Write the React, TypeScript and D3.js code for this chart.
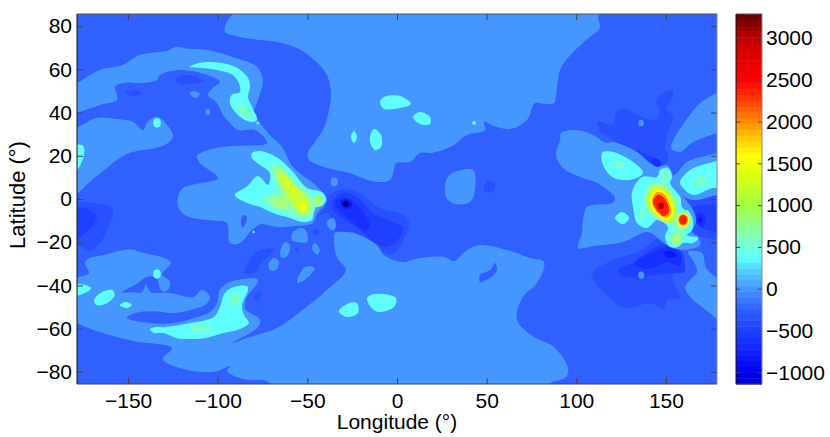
import React, { useEffect, useRef } from 'react';
import * as d3 from 'd3';

type Ring = [number, number][];
type Spot = [number, number, number];

const lonTicks = [-150, -100, -50, 0, 50, 100, 150];
const latTicks = [-80, -60, -40, -20, 0, 20, 40, 60, 80];
const barTicks = [-1000, -500, 0, 500, 1000, 1500, 2000, 2500, 3000];

// colorbar stops
const barValues = [-1140, -1000, -700, -500, -250, 0, 200, 370, 600, 1000, 1350, 1600, 1800, 2000, 2300, 2500, 2900, 3000, 3286];
const barColors = ['#0000c8', '#0000f0', '#1428ff', '#1e40ff', '#3060ff', '#4696ff', '#50c8ff', '#5fffff', '#80ffc0', '#a0ff40', '#d8ff10', '#ffff00', '#ffc800', '#ff8c00', '#ff3000', '#ff0000', '#d00000', '#c00000', '#600000'];

// contour regions, [lon, lat], one list per level
const trough1: Ring[] = [
  [[-44.6,-8.3],[-40.2,-4.2],[-37.4,1.9],[-30.1,4.6],[-22.3,3.2],[-9.5,-4.2],[3.3,-7.4],[6.7,-10.6],[4.5,-17.6],[0.6,-23.6],[-3.9,-25.5],[-10.6,-23.6],[-15.1,-20.4],[-24.6,-16.7],[-31.8,-15.3],[-34.6,-14.4],[-38.5,-6.5]],
  [[-182.5,-2.3],[-171.3,-1.9],[-159,-4.2],[-161.3,-13.9],[-167.4,-21.8],[-172.4,-24.1],[-178.6,-20.8],[-182.5,-19]],
  [[112.2,35.7],[120.5,34.3],[122.2,39.8],[127.2,42.1],[133.4,38.9],[138.4,37.5],[142.8,36.6],[146.8,39.8],[144.5,44.9],[148.4,49.1],[154,50],[152.9,45.8],[150.1,42.1],[154,38],[151.2,30.6],[149.5,24.5],[151.2,18.1],[146.8,13.4],[135.6,18.1],[120.5,27.3],[113.3,31.5]],
  [[162.4,0.5],[183,1.4],[183,-17.6],[169.1,-17.1],[163.5,-13.4]],
  [[108.8,-34.3],[120.5,-28.2],[134.5,-24.5],[148.4,-17.1],[153.5,-22.7],[160.2,-25.9],[158,-33],[153.5,-36.1],[157.9,-45.8],[151.2,-46.8],[148.4,-50.5],[141.2,-48.2],[127.2,-50.5],[118.9,-45.8],[110.5,-38.4]],
  [[-151.7,49.1],[-147.3,50.5],[-141.7,49.1],[-147.3,47.7]],
  [[-123.3,55.6],[-117.2,57.4],[-107.7,54.6],[-115.5,53.2],[-122.2,53.7]],
  [[-85.4,-34.3],[-83.7,-30.6],[-78.1,-24.5],[-68.6,-23.2],[-75.3,-29.6],[-79.8,-34.3]],
  [[-79.8,-46.3],[-77.6,-43.1],[-75.9,-44],[-78.1,-46.8]],
  [[48.5,4.2],[50.8,8.8],[54.7,6.5],[53,3.2]],
];
const trough1Spots: Spot[] = [[-45.1, -15.3, 1.5], [-55.8, -23.6, 1]];

const trough2: Ring[] = [
  [[-36.3,-1.4],[-30.1,2.8],[-22.3,0.9],[-13.4,-6.5],[-2.2,-10.6],[3.3,-13],[1.7,-17.6],[-5.6,-22.2],[-13.4,-19.9],[-20.6,-14.4],[-30.7,-8.8],[-35.7,-5.1]],
  [[-182.5,-4.6],[-172.4,-4.6],[-167.4,-7.9],[-171.3,-13.9],[-178,-18.1],[-182.5,-19]],
  [[133.9,22.7],[142.3,19.4],[147.9,16.7],[144,14.4],[137.3,18.1]],
  [[165.2,-3.7],[183,-4.6],[183,-14.8],[170.2,-13.4],[165.2,-9.7]],
  [[123.3,-32.9],[131.7,-29.2],[139.5,-24.5],[150.7,-20.4],[157.9,-23.6],[160.2,-28.2],[160.2,-33.8],[152.9,-34.3],[142.8,-35.2],[136.2,-36.1],[127.2,-36.1]],
];

const trough3: Ring[] = [
  [[-34.6,-1.4],[-29,0.9],[-22.3,-2.8],[-16.7,-8.8],[-15.1,-13],[-17.9,-14.4],[-26.2,-9.7],[-32.9,-5.1]],
  [[141.8,18.1],[144.5,19],[147.3,16.7],[144.5,14.8]],
  [[167.4,-6.5],[171.9,-7.4],[170.8,-13],[168,-12]],
  [[132.8,-29.6],[142.8,-24.5],[152.3,-22.2],[158.5,-25.9],[157.9,-30.6],[150.1,-29.2],[142.8,-31.9],[134.5,-31.5]],
];

const trough4: Ring[] = [
  [[-31.8,-1.4],[-27.9,0],[-25.1,-2.8],[-27.9,-4.6],[-30.7,-3.2]],
  [[148.7,-24.5],[154.3,-24.5],[156,-26.4],[150.7,-26.9]],
];
const trough4Spots: Spot[] = [[169.1, -9.7, 1.3]];
const trough5Spots: Spot[] = [[-28.5, -2.3, 1.5]];

const zeroLevel: Ring[] = [
  [[-89.8,89.8],[-92.1,85.2],[-95.4,81],[-96,77.3],[-87.6,75],[-76.4,73.6],[-67,72.7],[-55.8,69.9],[-46.3,64.4],[-39.1,57.4],[-36.8,48.2],[-38.5,38.9],[-41.3,31.9],[-45.8,26.4],[-49.7,21.3],[-49.1,18.1],[-45.2,16.2],[-39.1,14.4],[-26.2,12],[-19.5,9.7],[-11.2,7.9],[-3.9,8.8],[-1.7,13.4],[-0.6,16.7],[7.3,17.1],[12.8,21.3],[19.5,21.3],[30.7,24.5],[39.1,29.6],[49.1,31.9],[48.5,35.7],[54.1,33.8],[63.1,32.4],[72.5,36.6],[77,44.4],[82,44],[87.6,44.4],[88.7,48.2],[91,59.7],[95.4,65.3],[105.5,73.6],[113.3,79.2],[112.2,83.8],[113.8,89.8]],
  [[-182.5,52.8],[-178.6,53.7],[-165.7,59.7],[-152.9,62],[-143.4,66.7],[-128.3,68.5],[-122.8,70.4],[-117.2,69.5],[-106,69],[-91.5,65.7],[-78.1,61.1],[-74.8,55.1],[-77.6,45.8],[-79.8,39.8],[-76.4,35.2],[-70.9,29.6],[-64.2,24.1],[-58,14.8],[-46.9,7.4],[-41.3,2.8],[-39.1,-0.5],[-41.3,-3.7],[-44.6,-6.5],[-46.9,-11.1],[-56.9,-12.5],[-67,-13],[-75.3,-11.6],[-80.4,-13.9],[-87.6,-20.4],[-93.2,-20.4],[-94.9,-11.1],[-100.4,-10.2],[-117.2,-7.9],[-122.2,-3.2],[-120,4.6],[-99.9,9.7],[-109.9,16.7],[-111.6,19.9],[-102.7,23.2],[-91.5,24.5],[-72.5,25.9],[-79.2,31.9],[-88.7,31.9],[-93.2,35.2],[-97.1,38.9],[-100.4,44.4],[-105.5,48.2],[-102.7,51.4],[-98.8,54.2],[-106,57.4],[-121.1,59.7],[-132.2,57.4],[-133.9,55.1],[-143.4,53.7],[-152.9,53.7],[-157.4,51.9],[-156.2,48.2],[-156.2,45.8],[-165.7,43.5],[-178.6,39.8],[-182.5,38.9]],
  [[-182.5,31],[-178.6,32.9],[-167.4,37.5],[-155.7,37],[-147.3,35.7],[-141.7,31.9],[-139.5,35.2],[-133.9,38],[-128.3,34.3],[-125,28.7],[-129.5,25],[-135,23.6],[-150.7,20.8],[-161.8,14.4],[-171.3,7.9],[-178.6,2.3],[-182.5,-0.5]],
  [[-182.5,-36.1],[-178.6,-36.1],[-171.9,-34.3],[-174.1,-29.6],[-171.3,-27.3],[-163.5,-25.9],[-149,-23.2],[-141.2,-25],[-130,-27.3],[-126.1,-29.6],[-129.5,-32.9],[-131.1,-35.2],[-127.2,-37.5],[-126.7,-40.7],[-130,-43.1],[-132.2,-41.2],[-133.9,-37],[-138.4,-35.7],[-146.2,-39.8],[-153.5,-43.1],[-147.9,-43.1],[-142.3,-43.1],[-140.1,-39.8],[-137.3,-43.1],[-126.7,-43.5],[-116.1,-45.4],[-113.3,-45.4],[-108.8,-42.1],[-104.3,-45.4],[-107.1,-49.1],[-113.3,-50.9],[-124.4,-52.8],[-135.6,-51.9],[-146.2,-52.8],[-150.7,-55.1],[-137.8,-57.4],[-124.4,-57.4],[-113.3,-55.1],[-104.3,-52.3],[-100.4,-48.2],[-98.8,-42.1],[-93.2,-38.4],[-78.1,-37],[-77.6,-38.4],[-83.7,-45.4],[-84.8,-50.5],[-76.4,-56],[-78.1,-59.7],[-92.1,-66.7],[-82,-63.9],[-67,-59.7],[-54.1,-52.3],[-39.1,-42.1],[-28.5,-32.9],[-33.5,-26.9],[-35.2,-19],[-34.6,-15.7],[-27.9,-15.3],[-22.3,-16.2],[-11.2,-21.3],[-7.3,-25.9],[2.8,-29.2],[12.8,-27.3],[26.8,-26.9],[31.8,-28.7],[39.1,-23.6],[46.3,-21.3],[61.4,-23.6],[74.2,-27.3],[82,-29.2],[78.1,-38.9],[69.8,-45.8],[67,-56],[76.4,-63.9],[87.6,-68.5],[95.4,-78.2],[94.3,-82.4],[87,-84.7],[74.2,-89.4],[-67,-89.4],[-72.5,-84.3],[-85.9,-83.3],[-94.9,-79.6],[-93.2,-77.3],[-102.7,-80.1],[-121.1,-78.2],[-130.6,-74.1],[-125.5,-69],[-147.3,-65.7],[-167.4,-61.1],[-178.6,-57.4],[-182.5,-56]],
  [[91,27.3],[91.5,30.6],[99.9,31.9],[109.4,29.6],[116.6,25.9],[120.5,26.4],[133.9,21.8],[141.2,16.7],[145.6,14.8],[150.7,15.7],[154,11.1],[156.2,5.6],[159,1.9],[165.2,-5.1],[166.8,-10.6],[164.6,-15.3],[168,-17.6],[169.1,-21.3],[163.5,-23.2],[156.2,-23.2],[149.5,-20.8],[144,-17.1],[139.5,-15.3],[126.1,-19.9],[109.4,-21.8],[101,-22.7],[103.2,-15.7],[103.8,-9.7],[106,-3.7],[109.4,-2.8],[120,-1.9],[121.6,0.5],[111.6,7.4],[102.1,10.2],[92.6,14.4],[88.7,20.4]],
  [[183,22.7],[178.6,21.3],[161.8,17.1],[156.2,12],[153.4,9.7],[156.2,5.6],[159,1.9],[165.2,-0.5],[178.6,1.9],[183,1.9]],
  [[183,51.4],[178,49.1],[169.1,44.4],[161.3,36.6],[155.1,28.7],[152.9,23.6],[157.9,21.8],[165.2,26.4],[178.6,30.6],[183,31.9]],
  [[162.4,-24.5],[170.2,-25],[172.4,-31.9],[179.1,-36.6],[183,-37.5],[183,-56.9],[178,-55.1],[172.4,-51.4],[163.5,-45.4],[160.7,-40.7],[163.5,-37.5],[167.4,-33.8],[165.7,-29.2]],
  [[-115.5,49.1],[-112.7,50],[-109.9,48.6],[-112.7,46.8]],
  [[-58.6,-19],[-58,-15.3],[-52.9,-13.4],[-50.2,-15.7],[-50.2,-19.9],[-55.8,-19.9]],
  [[-65.3,-25],[-62.5,-19.9],[-59.7,-21.3],[-60.8,-25.9],[-64.2,-27.3]],
  [[-47.4,-22.7],[-45.8,-20.4],[-43,-23.6],[-44.6,-25.9]],
  [[-39.1,-10.6],[-35.7,-8.8],[-34,-12],[-35.2,-14.4],[-37.9,-13.4]],
  [[-55.8,-38.4],[-51.3,-31.5],[-45.8,-31.9],[-50.2,-36.6],[-54.7,-38.9]],
  [[-71.4,-29.6],[-68.6,-27.3],[-65.8,-29.2],[-67.5,-32.9],[-70.9,-32.9]],
  [[27.9,9.7],[32.4,12.5],[42.4,13.4],[43.5,4.2],[40.7,-1.4],[32.4,-2.3],[27.3,0.9]],
];
const zeroSpots: Spot[] = [[-105.5, 40.3, 1.4], [-35, 7.9, 2], [136.2, 35.2, 1.5], [136.2, -35.2, 1.7]];

// lows that sit inside the zero level
const zeroHoles: Ring[] = [
  [[-87,-11.6],[-85.9,-7.4],[-83.7,-8.3],[-85.9,-13.4]],
  [[46.3,-38.4],[46.3,-35.2],[51.9,-32.9],[54.7,-29.6],[55.8,-32.9],[54.1,-35.2],[48.5,-38]],
];

const cyanLevel: Ring[] = [
  [[-182.5,24.5],[-175.1,24.5],[-174.6,20.4],[-178.6,13.4],[-182.5,12.5]],
  [[-115.5,61.1],[-109.9,63],[-98.8,63],[-89.3,60.7],[-83.1,56],[-82,51.9],[-83.1,47.2],[-80.9,42.6],[-78.1,36.6],[-82,35.7],[-88.7,38.9],[-93.2,44.4],[-92.1,48.2],[-87.6,49.5],[-88.2,53.7],[-91.5,57.4],[-100.4,59.7],[-109.9,60.7]],
  [[-9.5,44.9],[-7.3,47.2],[1.7,47.7],[7.8,44],[-1.7,41.7],[-7.3,41.7]],
  [[8.9,38],[12.8,40.3],[18.4,38],[18.4,34.7],[12.8,34.7]],
  [[-25.7,28.7],[-24,31.5],[-22.3,28.7],[-24,25.9]],
  [[-15.1,28.7],[-12.8,32.4],[-8.9,29.6],[-8.9,24.1],[-12.3,22.7],[-14.5,25]],
  [[-32.4,-51.9],[-26.8,-48.2],[-22.3,-48.2],[-21.8,-52.8],[-27.9,-54.6]],
  [[-16.7,-45.8],[-12.8,-44],[-0.6,-45.8],[-1.7,-50],[-10,-52.3],[-14,-50.5]],
  [[-182.5,-39.8],[-174.1,-39.8],[-170.7,-41.2],[-174.1,-43.5],[-182.5,-44.9]],
  [[-169,-46.8],[-164.6,-43.1],[-159,-42.1],[-157.4,-44.4],[-161.8,-48.2],[-167.4,-49.1]],
  [[-154.6,-49.1],[-151.2,-47.7],[-147.9,-49.1],[-150.7,-50.5]],
  [[-137.8,-60.2],[-135,-59.3],[-130,-59.3],[-115.5,-57.4],[-102.1,-54.6],[-98.8,-50],[-96,-43.5],[-91,-40.7],[-83.7,-40.3],[-83.1,-42.1],[-86.5,-49.1],[-85.4,-53.7],[-82.6,-57.4],[-87.6,-60.2],[-96.5,-62],[-107.7,-64.4],[-122.8,-64.4],[-130,-62],[-135.6,-62]],
  [[-80.9,21.3],[-76.4,22.2],[-66.4,19],[-58,12.5],[-50.2,5.1],[-41.9,3.2],[-39.6,0.5],[-41.3,-2.8],[-45.8,-4.2],[-47.4,-9.7],[-52.5,-10.6],[-59.7,-8.8],[-69.2,-6.5],[-76.4,-3.7],[-82,-2.3],[-90.4,1.9],[-84,5.5],[-77.6,10.6],[-72,6.5],[-70.9,12],[-76.4,15.7],[-80.9,19]],
  [[131.1,3.2],[136.7,10.2],[145.1,10.2],[146.8,13.4],[151.2,14.4],[153.5,10.2],[152.3,7.4],[157.9,0.9],[159,-3.7],[164.6,-8.3],[164.6,-14.4],[161.8,-16.7],[168,-18.1],[165.2,-20.4],[159.6,-20.4],[156.8,-22.2],[152.3,-22.2],[149.5,-17.6],[151.2,-13],[145.1,-9.7],[139.5,-13.4],[133.9,-11.1],[131.7,-3.7]],
  [[121.6,-8.8],[125.5,-6],[129.5,-8.8],[126.1,-11.6]],
  [[114.4,21.3],[120.5,21.8],[131.7,17.1],[137.3,12],[130,8.8],[120,10.2],[115,15.7]],
  [[157.9,7.9],[163.5,13.4],[176.3,17.1],[183,18],[183,5.1],[176.3,5.1],[165.2,1.9],[159.6,5.1]],
];
const cyanSpots: Spot[] = [[-77.6, 35.2, 0.7], [-133.9, 35.2, 2.2], [-133.9, -34.7, 2.2], [43, 35.2, 1], [-80, -15.3, 0.6]];

const paleLevel: Ring[] = [
  [[-89.8,44.4],[-83.7,42.1],[-81.5,38],[-86.5,38.9]],
  [[-115.5,-59.3],[-104.3,-59.3],[-104.3,-61.1],[-115.5,-61.1]],
  [[-93.2,-46.8],[-89.3,-43.1],[-87.6,-45.4],[-91,-50]],
  [[-70.9,14.8],[-66.4,16.7],[-59.7,11.1],[-48.5,2.8],[-45.2,-2.8],[-48.5,-8.3],[-54.1,-8.8],[-64.2,-6],[-72.5,-2.8],[-75.3,0.9],[-68,3.2],[-69.2,8.8]],
  [[-47.4,0.5],[-44,2.3],[-40.7,-0.5],[-44,-3.7]],
  [[137.3,0.9],[142.3,7.4],[148.4,5.6],[154,-3.7],[156.2,-8.3],[161.8,-5.1],[164.6,-9.7],[161.8,-14.4],[160.7,-18.1],[156.2,-21.3],[151.2,-19],[154,-13],[146.8,-8.3],[139.5,-5.1]],
  [[146.8,10.2],[149.5,13.4],[152.3,10.2],[149.5,6.9]],
  [[120,15.7],[123.3,17.1],[127.2,15.7],[123.3,14.4]],
  [[165.2,6.5],[169.1,10.6],[172.9,9.7],[170.2,6.5],[166.3,5.6]],
  [[135.6,-6.5],[136.7,-3.2],[138.4,-6.5],[136.7,-9.7]],
  [[154,-0.5],[156.2,1.4],[158.5,-0.5],[156.2,-2.3]],
];

const greenLevel: Ring[] = [
  [[-68,14.4],[-63.6,13.9],[-58,7.4],[-50.2,1.9],[-47.4,-2.8],[-49.1,-7.4],[-54.1,-7.9],[-59.7,-3.2],[-63.6,-4.6],[-68,-3.7],[-70.9,-0.5],[-65.3,0.9],[-62.5,4.2],[-66.4,8.8]],
  [[138.4,-0.5],[142.3,6.9],[150.7,5.6],[156.8,-6.5],[153.5,-11.6],[144.5,-8.8],[140,-5.1]],
  [[156.2,-9.7],[159.6,-6.5],[163.5,-9.7],[160.7,-13.4],[156.8,-13]],
  [[153.5,-19],[155.7,-15.3],[158.5,-19],[155.7,-21.8]],
];
const greenSpots: Spot[] = [[-44, -0.9, 2.5]];

const limeLevel: Ring[] = [
  [[-66.4,11.1],[-62.5,11.1],[-56.9,5.6],[-50.2,0.5],[-49.7,-4.2],[-51.3,-6.5],[-55.2,-5.1],[-59.7,0.5],[-64.2,5.6]],
  [[140,-0.5],[143.4,5.6],[150.7,3.7],[155.1,-6.5],[151.8,-10.6],[144.5,-7.4],[141.2,-4.2]],
  [[156.8,-9.7],[159.6,-7.4],[162.4,-9.7],[159.6,-12.5]],
];

const yellowLevel: Ring[] = [
  [[141.2,-0.5],[144.5,4.2],[150,2.8],[154,-6.5],[150.7,-9.7],[144,-6.5]],
];
const yellowSpots: Spot[] = [[-52.4, -3.7, 1.8], [-58, 4.2, 1], [-60.8, 7.4, 0.7], [159.6, -9.7, 3.4]];

const orangeLevel: Ring[] = [
  [[142.3,-0.5],[145.1,3.2],[149.5,1.9],[152.9,-6],[150.1,-8.8],[144.5,-5.6]],
];
const orangeSpots: Spot[] = [[159.6, -9.7, 2.8]];

const redLevel: Ring[] = [
  [[142.8,-0.9],[145.6,1.9],[149,0.5],[151.8,-5.6],[149,-7.9],[144.5,-4.6]],
];
const redSpots: Spot[] = [[159.6, -9.7, 2.2]];
const maroonSpots: Spot[] = [[147.3, -3.2, 1.5]];

const baseColor = '#3060ff';

const layers: { color: string; rings: Ring[]; spots: Spot[] }[] = [
  { color: '#2850ff', rings: trough1, spots: trough1Spots },
  { color: '#2040ff', rings: trough2, spots: [] },
  { color: '#1830ff', rings: trough3, spots: [] },
  { color: '#0c18f4', rings: trough4, spots: trough4Spots },
  { color: '#000090', rings: [], spots: trough5Spots },
  { color: '#4696ff', rings: zeroLevel, spots: zeroSpots },
  { color: baseColor, rings: zeroHoles, spots: [] },
  { color: '#5fffff', rings: cyanLevel, spots: cyanSpots },
  { color: '#7fffc8', rings: paleLevel, spots: [] },
  { color: '#a4ff80', rings: greenLevel, spots: greenSpots },
  { color: '#c8ff30', rings: limeLevel, spots: [] },
  { color: '#ffff00', rings: yellowLevel, spots: yellowSpots },
  { color: '#ffa000', rings: orangeLevel, spots: orangeSpots },
  { color: '#ff2000', rings: redLevel, spots: redSpots },
  { color: '#b00000', rings: [], spots: maroonSpots },
];

const minus = (v: number) => String(v).replace('-', '\u2212');

const App = () => {
  const svgRef = useRef<SVGSVGElement>(null);

  useEffect(() => {
    const svg = d3.select(svgRef.current);
    svg.selectAll('*').remove();

    const left = 77, right = 717, top = 14, bottom = 384;
    const barLeft = 736, barRight = 762;
    const font = '"Liberation Sans", Arial, sans-serif';

    const x = d3.scaleLinear().domain([-178.5, 178.5]).range([left, right]);
    const y = d3.scaleLinear().domain([-85.6, 85.6]).range([bottom, top]);
    const bar = d3.scaleLinear().domain([-1140, 3286]).range([bottom, top]);
    const barColor = d3.scaleLinear<string>().domain(barValues).range(barColors);

    svg.append('defs').append('clipPath').attr('id', 'plot-clip')
      .append('rect')
      .attr('x', left).attr('y', top)
      .attr('width', right - left).attr('height', bottom - top);

    const plot = svg.append('g').attr('clip-path', 'url(#plot-clip)');
    plot.append('rect')
      .attr('x', left).attr('y', top)
      .attr('width', right - left).attr('height', bottom - top)
      .attr('fill', baseColor);

    const outline = d3.line<[number, number]>()
      .x(d => x(d[0]))
      .y(d => y(d[1]))
      .curve(d3.curveCatmullRomClosed.alpha(0.5));

    layers.forEach(layer => {
      plot.selectAll(null).data(layer.rings).enter().append('path')
        .attr('d', d => outline(d))
        .attr('fill', layer.color);
      plot.selectAll(null).data(layer.spots).enter().append('ellipse')
        .attr('cx', d => x(d[0]))
        .attr('cy', d => y(d[1]))
        .attr('rx', d => x(d[2]) - x(0))
        .attr('ry', d => y(0) - y(d[2]))
        .attr('fill', layer.color);
    });

    // colorbar, 64 bands
    const bands = d3.range(64);
    const bandStep = (3286 + 1140) / 64;
    svg.selectAll(null).data(bands).enter().append('rect')
      .attr('x', barLeft)
      .attr('width', barRight - barLeft)
      .attr('y', d => bar(-1140 + (d + 1) * bandStep))
      .attr('height', bar(-1140) - bar(-1140 + bandStep) + 0.5)
      .attr('fill', d => barColor(-1140 + (d + 0.5) * bandStep));

    const styleAxis = (g: any) => {
      g.select('.domain').remove();
      g.selectAll('.tick line').attr('stroke', '#444').attr('stroke-width', 1);
      g.selectAll('text')
        .attr('fill', '#000')
        .style('font-family', font)
        .style('font-size', '21px');
    };

    svg.append('g')
      .attr('transform', `translate(0, ${bottom})`)
      .call(d3.axisBottom(x).tickValues(lonTicks).tickSizeInner(-6).tickSizeOuter(0).tickPadding(9).tickFormat(d => minus(+d)))
      .call(styleAxis);
    svg.append('g')
      .attr('transform', `translate(0, ${top})`)
      .call(d3.axisTop(x).tickValues(lonTicks).tickSizeInner(-6).tickSizeOuter(0).tickFormat(() => ''))
      .call(styleAxis);
    svg.append('g')
      .attr('transform', `translate(${left}, 0)`)
      .call(d3.axisLeft(y).tickValues(latTicks).tickSizeInner(-6).tickSizeOuter(0).tickPadding(5).tickFormat(d => minus(+d)))
      .call(styleAxis);
    svg.append('g')
      .attr('transform', `translate(${right}, 0)`)
      .call(d3.axisRight(y).tickValues(latTicks).tickSizeInner(-6).tickSizeOuter(0).tickFormat(() => ''))
      .call(styleAxis);

    svg.append('g')
      .attr('transform', `translate(${barRight}, 0)`)
      .call(d3.axisRight(bar).tickValues(barTicks).tickSizeInner(-4).tickSizeOuter(0).tickPadding(4).tickFormat(d => minus(+d)))
      .call(styleAxis);
    svg.append('g')
      .attr('transform', `translate(${barLeft}, 0)`)
      .call(d3.axisLeft(bar).tickValues(barTicks).tickSizeInner(-4).tickSizeOuter(0).tickFormat(() => ''))
      .call(styleAxis);

    // frames: the left/top edges read darker than the right one in the source
    const frame = (x0: number, x1: number) => {
      const edges: [number, number, number, number, string][] = [
        [x0, top, x1, top, '#555'],
        [x0, bottom, x1, bottom, '#444'],
        [x1, top, x1, bottom, '#888'],
        [x0, top, x0, bottom, '#111'],
      ];
      svg.selectAll(null).data(edges).enter().append('line')
        .attr('x1', d => d[0]).attr('y1', d => d[1])
        .attr('x2', d => d[2]).attr('y2', d => d[3])
        .attr('stroke', d => d[4])
        .attr('stroke-width', 1);
    };
    frame(left, right);
    frame(barLeft, barRight);

    svg.append('text')
      .attr('x', (left + right) / 2)
      .attr('y', 429)
      .attr('text-anchor', 'middle')
      .style('font-family', font)
      .style('font-size', '21px')
      .text('Longitude (°)');
    svg.append('text')
      .attr('transform', `translate(25, 195) rotate(-90)`)
      .attr('text-anchor', 'middle')
      .style('font-family', font)
      .style('font-size', '22px')
      .text('Latitude (°)');
  }, []);

  return (
    <svg
      ref={svgRef}
      width={830}
      height={437}
      style={{ position: 'absolute', left: 0, top: 0, background: '#fff' }}
    />
  );
};

export default App;
